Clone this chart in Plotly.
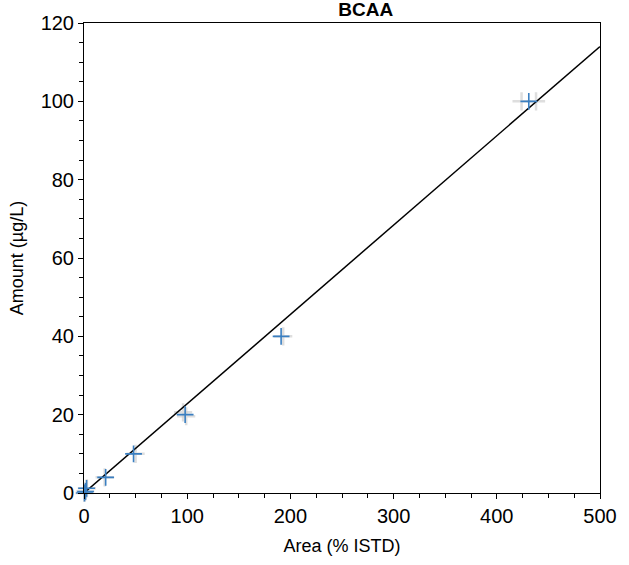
import plotly.graph_objects as go

# Calibration data
blue_area = [0.5, 1.5, 2.5, 21, 48, 98, 191, 431]
blue_amount = [0, 0.4, 1.2, 4, 10, 20, 40, 100]

grey_area = [0.3, 1.2, 2.8, 20, 50, 96, 99, 193, 424, 438]
grey_amount = [0, 0.4, 1.2, 4, 10, 20.6, 19.6, 40, 100, 100]

fit_area = [0, 500]
fit_amount = [0, 114]

x_ticks = [0, 100, 200, 300, 400, 500]
y_ticks = [0, 20, 40, 60, 80, 100, 120]

FONT = "Liberation Sans, Arial, Helvetica, sans-serif"

fig = go.Figure()
fig.add_trace(go.Scatter(
    x=grey_area, y=grey_amount, mode="markers", cliponaxis=False,
    marker=dict(symbol="cross-thin", size=13, line=dict(color="rgba(200,200,200,0.6)", width=2.5)),
    showlegend=False, hoverinfo="skip"))
fig.add_trace(go.Scatter(
    x=fit_area, y=fit_amount, mode="lines", cliponaxis=False,
    line=dict(color="black", width=1.5), showlegend=False))
fig.add_trace(go.Scatter(
    x=blue_area, y=blue_amount, mode="markers", cliponaxis=False,
    marker=dict(symbol="cross-thin", size=12, line=dict(color="#3a7fc1", width=1.6)),
    showlegend=False))

fig.update_layout(
    width=629, height=565,
    margin=dict(l=84, r=26, t=20, b=72),
    paper_bgcolor="white", plot_bgcolor="white",
    font=dict(family=FONT, size=20, color="black"),
    title=dict(text="<b>BCAA</b>", x=0.546, xanchor="center", xref="paper",
               y=1 - 9 / 565, yref="container", yanchor="middle",
               font=dict(family=FONT, size=19, color="black")),
)
fig.update_xaxes(
    range=[0, 500], tickvals=x_ticks, ticktext=[str(v) for v in x_ticks],
    showgrid=False, zeroline=False, showline=True, linecolor="black", linewidth=1,
    mirror=True, ticks="outside", ticklen=5, tickcolor="black", tickwidth=1,
    minor=dict(dtick=25, ticks="outside", ticklen=4, tickcolor="black", tickwidth=1, showgrid=False),
    title=dict(text="Area (% ISTD)", font=dict(family=FONT, size=18), standoff=13),
    tickfont=dict(family=FONT, size=20),
)
fig.update_yaxes(
    range=[0, 120], tickvals=y_ticks, ticktext=[str(v) for v in y_ticks],
    showgrid=False, zeroline=False, showline=True, linecolor="black", linewidth=1,
    mirror=True, ticks="outside", ticklen=5, tickcolor="black", tickwidth=1,
    minor=dict(dtick=5, ticks="outside", ticklen=4, tickcolor="black", tickwidth=1, showgrid=False),
    title=dict(text="Amount (µg/L)", font=dict(family=FONT, size=18), standoff=12),
    tickfont=dict(family=FONT, size=20),
)

fig.write_html("out.html", config={"displayModeBar": False},
               post_script="document.body.style.margin='0';")
